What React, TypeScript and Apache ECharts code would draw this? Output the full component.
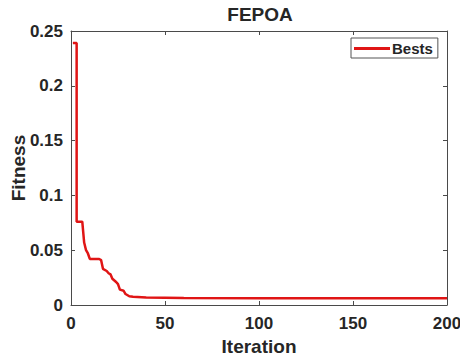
import React, { useEffect, useRef } from "react";
import * as echarts from "echarts";

const titleText = "FEPOA";
const seriesName = "Bests";
const xAxisName = "Iteration";
const yAxisName = "Fitness";

// [iteration, best fitness] breakpoints
const iterations = [1, 3, 3, 6, 7, 8, 9, 10, 15, 16, 17, 19, 20, 21, 22, 24, 25, 26, 28, 29, 31, 33, 40, 60, 100, 200];
const bests = [0.239, 0.239, 0.076, 0.076, 0.057, 0.05, 0.047, 0.042, 0.042, 0.041, 0.033, 0.031, 0.029, 0.028, 0.024, 0.021, 0.019, 0.014, 0.013, 0.01, 0.008, 0.0075, 0.0068, 0.0063, 0.0062, 0.0061];

const xTicks = [0, 50, 100, 150, 200];
const yTicks = [0, 0.05, 0.1, 0.15, 0.2, 0.25];

const FONT = '"Liberation Sans", Arial, sans-serif';
const TEXT = "#262626";
const AXIS = "#4a4a4a";

export default function App() {
  const ref = useRef<HTMLDivElement>(null);
  useEffect(() => {
    document.body.style.margin = "0";
    if (!ref.current) return;
    const chart = echarts.init(ref.current, null, { renderer: "svg" });
    const data = iterations.map((x, i) => [x, bests[i]]);
    const tickCommon = { show: true, inside: true, length: 4, lineStyle: { color: AXIS, width: 1 } };
    const lineCommon = { show: true, onZero: false, lineStyle: { color: AXIS, width: 1 } };
    const labelStyle = { fontFamily: FONT, fontWeight: "bold" as const, fontSize: 17, color: TEXT };
    chart.setOption({
      animation: false,
      backgroundColor: "#ffffff",
      title: {
        text: titleText,
        left: 260,
        textAlign: "center",
        top: 5,
        padding: 0,
        textStyle: { fontFamily: FONT, fontWeight: "bold", fontSize: 19, color: TEXT },
      },
      legend: {
        show: true,
        data: [seriesName],
        left: 351,
        top: 38,
        orient: "horizontal",
        padding: [2, 5, 1, 3],
        itemWidth: 36,
        itemHeight: 3,
        itemGap: 0,
        icon: "rect",
        borderColor: "#555",
        borderWidth: 1,
        backgroundColor: "#fff",
        textStyle: { fontFamily: FONT, fontWeight: "bold", fontSize: 15, color: TEXT, padding: [0, 0, 0, -3], lineHeight: 17 },
      },
      grid: { left: 71, right: 13, top: 31, bottom: 51, containLabel: false, outerBoundsMode: "none" },
      xAxis: [
        {
          type: "value",
          min: xTicks[0],
          max: xTicks[xTicks.length - 1],
          interval: 50,
          position: "bottom",
          axisLine: lineCommon,
          axisTick: tickCommon,
          splitLine: { show: false },
          axisLabel: { ...labelStyle, margin: 10 },
          name: xAxisName,
          nameLocation: "middle",
          nameMoveOverlap: false,
          nameGap: 31,
          nameTextStyle: { fontFamily: FONT, fontWeight: "bold", fontSize: 19, color: TEXT, lineHeight: 20 },
        },
        {
          type: "value",
          min: xTicks[0],
          max: xTicks[xTicks.length - 1],
          interval: 50,
          position: "top",
          axisLine: lineCommon,
          axisTick: tickCommon,
          splitLine: { show: false },
          axisLabel: { show: false },
        },
      ],
      yAxis: [
        {
          type: "value",
          min: yTicks[0],
          max: yTicks[yTicks.length - 1],
          interval: 0.05,
          position: "left",
          axisLine: lineCommon,
          axisTick: tickCommon,
          splitLine: { show: false },
          axisLabel: { ...labelStyle, margin: 8, formatter: (v: number) => String(+v.toFixed(2)) },
          name: yAxisName,
          nameLocation: "middle",
          nameMoveOverlap: false,
          nameGap: 43,
          nameTextStyle: { fontFamily: FONT, fontWeight: "bold", fontSize: 19, color: TEXT, lineHeight: 20 },
        },
        {
          type: "value",
          min: yTicks[0],
          max: yTicks[yTicks.length - 1],
          interval: 0.05,
          position: "right",
          axisLine: lineCommon,
          axisTick: tickCommon,
          splitLine: { show: false },
          axisLabel: { show: false },
        },
      ],
      series: [
        {
          name: seriesName,
          type: "line",
          data,
          xAxisIndex: 0,
          yAxisIndex: 0,
          showSymbol: false,
          symbol: "none",
          lineStyle: { color: "#e01515", width: 2.5 },
          itemStyle: { color: "#e01515" },
        },
      ],
    });
    return () => chart.dispose();
  }, []);
  return <div ref={ref} style={{ width: 460, height: 356 }} />;
}
